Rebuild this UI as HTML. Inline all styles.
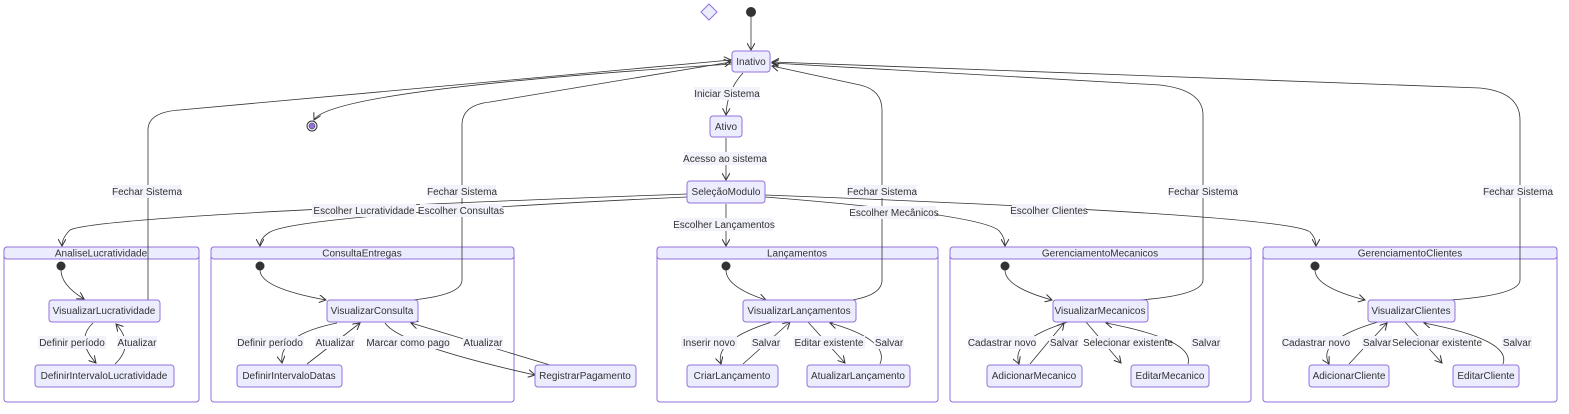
<!DOCTYPE html>
<html><head><meta charset="utf-8"><style>
body{margin:0;background:#fff;}
svg text{font-family:"Liberation Sans","DejaVu Sans",sans-serif;font-size:10px;fill:#333;}
.n{fill:#ECECFF;stroke:#9370DB;stroke-width:1;}
.c{fill:#fff;stroke:#9370DB;stroke-width:1;}
.h{fill:#ECECFF;stroke:#9370DB;stroke-width:1;}
.e{fill:none;stroke:#333;stroke-width:0.8;marker-end:url(#a);}
.lb{fill:#f2f2fa;}
</style></head><body>
<svg width="1569" height="409" xmlns="http://www.w3.org/2000/svg">
<defs><marker id="a" markerWidth="8" markerHeight="8" refX="7" refY="4" orient="auto" markerUnits="userSpaceOnUse"><path d="M0,0 L7,4 L0,8" fill="none" stroke="#333" stroke-width="1"/></marker></defs>

<!-- clusters -->
<g>
<rect class="c" x="4" y="247" width="195" height="155" rx="3"/><rect class="h" x="4" y="247" width="195" height="12" rx="3"/>
<text x="101" y="256.5" text-anchor="middle">AnaliseLucratividade</text>
<rect class="c" x="211" y="247" width="303" height="155" rx="3"/><rect class="h" x="211" y="247" width="303" height="12" rx="3"/>
<text x="362" y="256.5" text-anchor="middle">ConsultaEntregas</text>
<rect class="c" x="657" y="247" width="281" height="155" rx="3"/><rect class="h" x="657" y="247" width="281" height="12" rx="3"/>
<text x="797" y="256.5" text-anchor="middle">Lançamentos</text>
<rect class="c" x="950" y="247" width="301" height="155" rx="3"/><rect class="h" x="950" y="247" width="301" height="12" rx="3"/>
<text x="1100" y="256.5" text-anchor="middle">GerenciamentoMecanicos</text>
<rect class="c" x="1263" y="247" width="294" height="155" rx="3"/><rect class="h" x="1263" y="247" width="294" height="12" rx="3"/>
<text x="1410" y="256.5" text-anchor="middle">GerenciamentoClientes</text>
</g>

<!-- edges -->
<g>
<path class="e" d="M751,17 V50"/>
<path class="e" d="M743,73 Q727,90 726,115"/>
<path class="e" d="M726,138 V180"/>
<path class="e" d="M687,194 Q100,215 70,230 Q62,238 62,246"/>
<path class="e" d="M687,197 Q300,215 270,232 Q260,238 260,246"/>
<path class="e" d="M726,204 V246"/>
<path class="e" d="M765,197 Q990,215 1000,232 Q1005,238 1005,246"/>
<path class="e" d="M765,195 Q1290,215 1310,232 Q1316,238 1316,246"/>
<path class="e" d="M732,64 Q330,90 314,120"/>
<path class="e" d="M148,300 V130 Q148,112 180,110 L731,60"/>
<path class="e" d="M412,300 Q462,295 462,280 V125 Q462,105 490,102 L731,62"/>
<path class="e" d="M852,300 Q882,295 882,280 V110 Q882,90 860,85 L772,66"/>
<path class="e" d="M1140,300 Q1203,295 1203,280 V115 Q1203,90 1160,85 L772,63"/>
<path class="e" d="M1450,300 Q1520,295 1520,280 V120 Q1520,92 1480,88 L772,62"/>
<!-- inner -->
<path class="e" d="M61,270 Q61,285 84,299"/>
<path class="e" d="M93,323 Q75,340 96,363"/>
<path class="e" d="M115,364 Q135,345 116,324"/>
<path class="e" d="M260,270 Q260,288 326,300"/>
<path class="e" d="M337,323 Q278,335 282,363"/>
<path class="e" d="M307,364 L360,323"/>
<path class="e" d="M385,323 Q400,345 535,375"/>
<path class="e" d="M550,365 L411,323"/>
<path class="e" d="M726,270 Q726,287 766,300"/>
<path class="e" d="M772,322 Q714,340 721,364"/>
<path class="e" d="M743,364 L790,322"/>
<path class="e" d="M808,322 L845,363"/>
<path class="e" d="M880,364 Q890,340 830,323"/>
<path class="e" d="M1005,270 Q1005,287 1052,300"/>
<path class="e" d="M1068,322 Q1010,340 1019,364"/>
<path class="e" d="M1030,364 L1064,323"/>
<path class="e" d="M1086,322 L1121,363"/>
<path class="e" d="M1188,364 Q1195,340 1106,323"/>
<path class="e" d="M1315,270 Q1315,287 1365,300"/>
<path class="e" d="M1378,322 Q1316,340 1329,364"/>
<path class="e" d="M1349,364 L1387,323"/>
<path class="e" d="M1405,322 L1442,363"/>
<path class="e" d="M1503,364 Q1512,340 1424,323"/>
</g>

<!-- start/end -->
<polygon points="709,4 717,12 709,20 701,12" fill="#ECECFF" stroke="#9370DB"/>
<circle cx="751" cy="12" r="5" fill="#333"/>
<circle cx="312" cy="126" r="5" fill="#ECECFF" stroke="#333"/>
<circle cx="312" cy="126" r="3" fill="#9370DB" stroke="#333" stroke-width="0.5"/>
<circle cx="61" cy="266" r="4.5" fill="#333"/>
<circle cx="260" cy="266" r="4.5" fill="#333"/>
<circle cx="726" cy="266" r="4.5" fill="#333"/>
<circle cx="1005" cy="266" r="4.5" fill="#333"/>
<circle cx="1315" cy="266" r="4.5" fill="#333"/>

<!-- nodes -->
<g>
<rect class="n" x="732" y="51" width="38" height="21" rx="3"/><text x="751" y="65" text-anchor="middle">Inativo</text>
<rect class="n" x="710" y="116" width="32" height="21" rx="3"/><text x="726" y="130" text-anchor="middle">Ativo</text>
<rect class="n" x="687" y="181" width="78" height="22" rx="3"/><text x="726" y="195" text-anchor="middle">SeleçãoModulo</text>
<rect class="n" x="49" y="300" width="111" height="22" rx="3"/><text x="104" y="314" text-anchor="middle">VisualizarLucratividade</text>
<rect class="n" x="35" y="365" width="139" height="22" rx="3"/><text x="104" y="379" text-anchor="middle">DefinirIntervaloLucratividade</text>
<rect class="n" x="327" y="300" width="91" height="22" rx="3"/><text x="372" y="314" text-anchor="middle">VisualizarConsulta</text>
<rect class="n" x="237" y="365" width="105" height="22" rx="3"/><text x="289" y="379" text-anchor="middle">DefinirIntervaloDatas</text>
<rect class="n" x="535" y="365" width="101" height="22" rx="3"/><text x="585" y="379" text-anchor="middle">RegistrarPagamento</text>
<rect class="n" x="743" y="300" width="113" height="22" rx="3"/><text x="799" y="314" text-anchor="middle">VisualizarLançamentos</text>
<rect class="n" x="687" y="365" width="91" height="22" rx="3"/><text x="732" y="379" text-anchor="middle">CriarLançamento</text>
<rect class="n" x="807" y="365" width="103" height="22" rx="3"/><text x="858" y="379" text-anchor="middle">AtualizarLançamento</text>
<rect class="n" x="1053" y="300" width="95" height="22" rx="3"/><text x="1100" y="314" text-anchor="middle">VisualizarMecanicos</text>
<rect class="n" x="987" y="365" width="95" height="22" rx="3"/><text x="1034" y="379" text-anchor="middle">AdicionarMecanico</text>
<rect class="n" x="1131" y="365" width="78" height="22" rx="3"/><text x="1170" y="379" text-anchor="middle">EditarMecanico</text>
<rect class="n" x="1368" y="300" width="87" height="22" rx="3"/><text x="1411" y="314" text-anchor="middle">VisualizarClientes</text>
<rect class="n" x="1309" y="365" width="80" height="22" rx="3"/><text x="1349" y="379" text-anchor="middle">AdicionarCliente</text>
<rect class="n" x="1453" y="365" width="66" height="22" rx="3"/><text x="1486" y="379" text-anchor="middle">EditarCliente</text>
</g>

<!-- labels -->
<g>
<rect class="lb" x="694" y="87" width="66" height="13"/><text x="727" y="97" text-anchor="middle">Iniciar Sistema</text>
<rect class="lb" x="684" y="152" width="83" height="13"/><text x="725" y="162" text-anchor="middle">Acesso ao sistema</text>
<rect class="lb" x="676" y="218" width="97" height="13"/><text x="724" y="228" text-anchor="middle">Escolher Lançamentos</text>
<rect class="lb" x="312" y="204" width="104" height="13"/><text x="364" y="214" text-anchor="middle">Escolher Lucratividade</text>
<rect class="lb" x="420" y="204" width="82" height="13"/><text x="461" y="214" text-anchor="middle">Escolher Consultas</text>
<rect class="lb" x="852" y="206" width="84" height="13"/><text x="894" y="216" text-anchor="middle">Escolher Mecânicos</text>
<rect class="lb" x="1012" y="204" width="74" height="13"/><text x="1049" y="214" text-anchor="middle">Escolher Clientes</text>
<rect class="lb" x="113" y="185" width="68" height="13"/><text x="147" y="195" text-anchor="middle">Fechar Sistema</text>
<rect class="lb" x="428" y="185" width="68" height="13"/><text x="462" y="195" text-anchor="middle">Fechar Sistema</text>
<rect class="lb" x="848" y="185" width="68" height="13"/><text x="882" y="195" text-anchor="middle">Fechar Sistema</text>
<rect class="lb" x="1169" y="185" width="68" height="13"/><text x="1203" y="195" text-anchor="middle">Fechar Sistema</text>
<rect class="lb" x="1484" y="185" width="68" height="13"/><text x="1518" y="195" text-anchor="middle">Fechar Sistema</text>
<rect class="lb" x="38" y="336" width="68" height="13"/><text x="72" y="346" text-anchor="middle">Definir período</text>
<rect class="lb" x="117" y="336" width="40" height="13"/><text x="137" y="346" text-anchor="middle">Atualizar</text>
<rect class="lb" x="236" y="336" width="68" height="13"/><text x="270" y="346" text-anchor="middle">Definir período</text>
<rect class="lb" x="315" y="336" width="40" height="13"/><text x="335" y="346" text-anchor="middle">Atualizar</text>
<rect class="lb" x="367" y="336" width="83" height="13"/><text x="408" y="346" text-anchor="middle">Marcar como pago</text>
<rect class="lb" x="463" y="336" width="40" height="13"/><text x="483" y="346" text-anchor="middle">Atualizar</text>
<rect class="lb" x="681" y="336" width="56" height="13"/><text x="709" y="346" text-anchor="middle">Inserir novo</text>
<rect class="lb" x="751" y="336" width="30" height="13"/><text x="766" y="346" text-anchor="middle">Salvar</text>
<rect class="lb" x="793" y="336" width="72" height="13"/><text x="829" y="346" text-anchor="middle">Editar existente</text>
<rect class="lb" x="874" y="336" width="30" height="13"/><text x="889" y="346" text-anchor="middle">Salvar</text>
<rect class="lb" x="968" y="336" width="68" height="13"/><text x="1002" y="346" text-anchor="middle">Cadastrar novo</text>
<rect class="lb" x="1049" y="336" width="30" height="13"/><text x="1064" y="346" text-anchor="middle">Salvar</text>
<rect class="lb" x="1091" y="336" width="74" height="13"/><text x="1128" y="346" text-anchor="middle">Selecionar existente</text>
<rect class="lb" x="1191" y="336" width="30" height="13"/><text x="1206" y="346" text-anchor="middle">Salvar</text>
<rect class="lb" x="1282" y="336" width="68" height="13"/><text x="1316" y="346" text-anchor="middle">Cadastrar novo</text>
<rect class="lb" x="1362" y="336" width="30" height="13"/><text x="1377" y="346" text-anchor="middle">Salvar</text>
<rect class="lb" x="1400" y="336" width="74" height="13"/><text x="1437" y="346" text-anchor="middle">Selecionar existente</text>
<rect class="lb" x="1502" y="336" width="30" height="13"/><text x="1517" y="346" text-anchor="middle">Salvar</text>
</g>
</svg>
</body></html>
